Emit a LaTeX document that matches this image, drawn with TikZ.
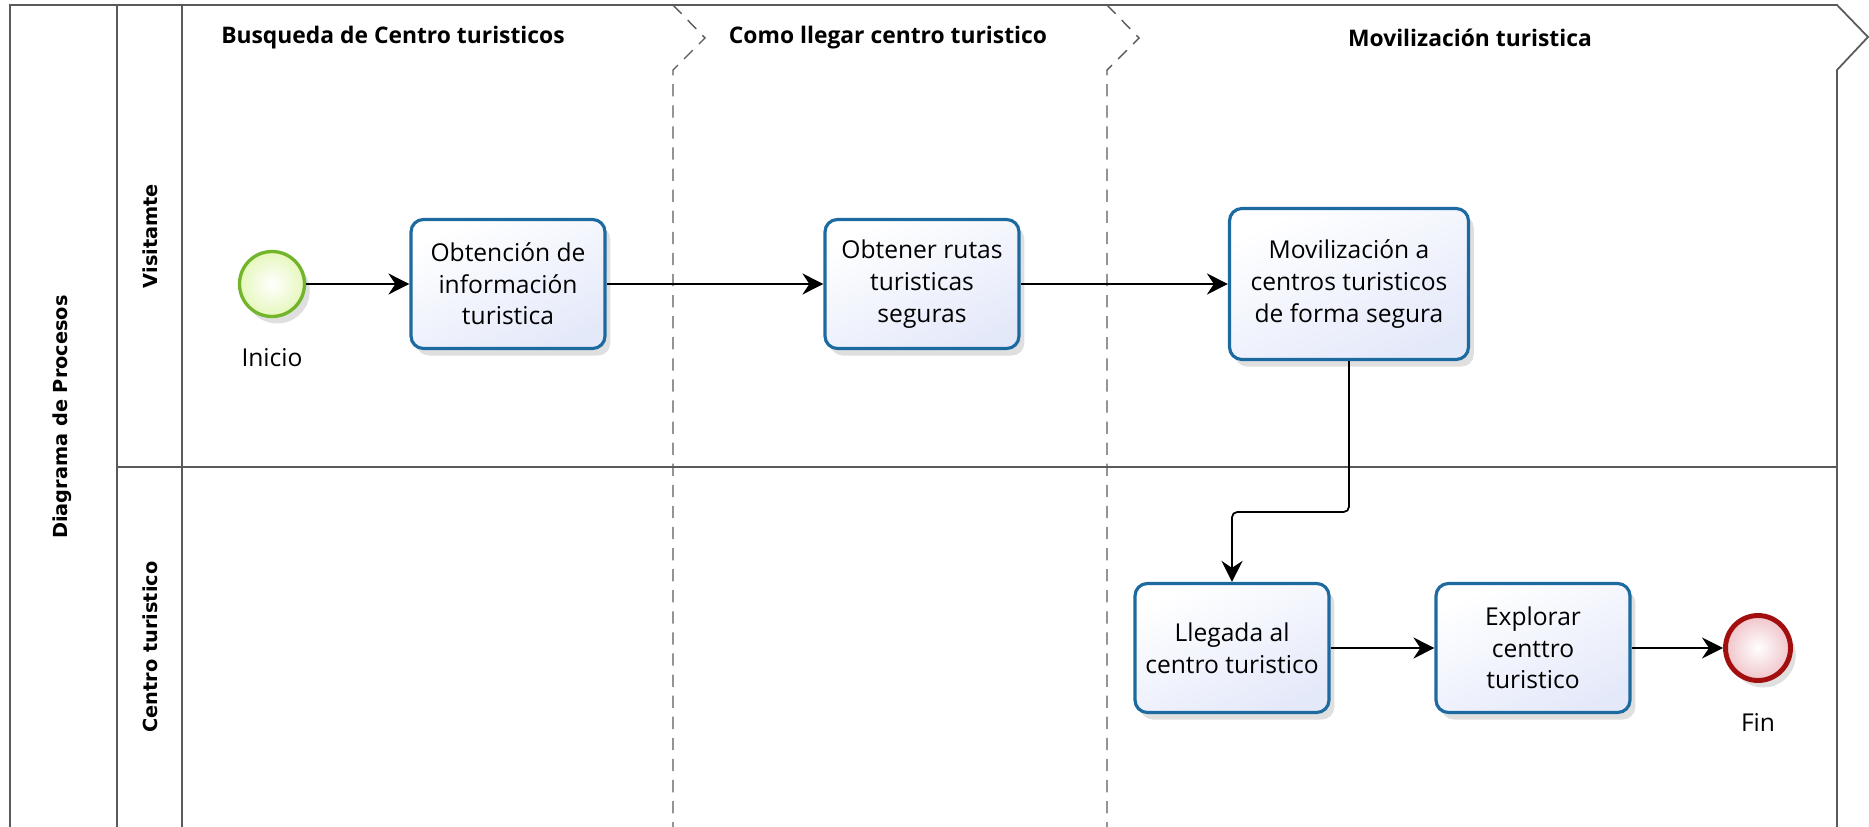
\documentclass[tikz,border=0pt]{standalone}
\usepackage{fontspec}
\setmainfont{Open Sans}
\newfontfamily\lanefont{DejaVu Sans}
\usetikzlibrary{arrows.meta,shadows}

\definecolor{taskblue}{HTML}{1C6AA0}
\definecolor{taskfill}{HTML}{E4E9FA}
\definecolor{startgreen}{HTML}{72B52A}
\definecolor{startfill}{HTML}{E6F7BC}
\definecolor{endred}{HTML}{A30F0F}
\definecolor{endfill}{HTML}{F0C4CA}
\definecolor{poolgray}{HTML}{5A5A5A}

\begin{document}
\begin{tikzpicture}[x=0.02cm,y=-0.02cm,
  shade/.style={drop shadow={shadow xshift=3pt,shadow yshift=-4pt,opacity=.25}},
  task/.style={rectangle,rounded corners=7pt,draw=taskblue,line width=1.8pt,
    top color=white,bottom color=taskfill,shading angle=25,shade,
    align=center,inner sep=2pt,font=\fontsize{14}{18}\selectfont,
    minimum width=3.88cm,minimum height=2.58cm},
  event/.style={circle,inner sep=0pt,minimum size=1.3cm,shade},
  startev/.style={event,draw=startgreen,line width=1.9pt,inner color=white,outer color=startfill},
  endev/.style={event,draw=endred,line width=2.8pt,inner color=white,outer color=endfill},
  evlabel/.style={font=\fontsize{14}{16}\selectfont},
  flow/.style={-{Stealth[length=12pt,width=12pt,inset=4pt]},line width=1pt},
  pool/.style={draw=poolgray,line width=1pt},
  phase/.style={draw=poolgray,line width=0.8pt,dash pattern=on 7pt off 5pt},
  phasetitle/.style={font=\bfseries\fontsize{13}{15}\selectfont},
  lanetitle/.style={rotate=90,font=\lanefont\bfseries\fontsize{11}{13}\selectfont}
]
\useasboundingbox (0,0) rectangle (1869,827);

% pool and lanes
\draw[pool] (10,827) -- (10,5) -- (1837,5) -- (1868,37) -- (1837,70) -- (1837,827);
\draw[pool] (117,5) -- (117,827);
\draw[pool] (182,5) -- (182,827);
\draw[pool] (117,467) -- (1837,467);

% phases
\draw[phase] (673,5) -- (705,38) -- (673,70) -- (673,827);
\draw[phase] (1107,5) -- (1139,38) -- (1107,70) -- (1107,827);

\node[phasetitle] (ph1) at (393,38) {Busqueda de Centro turisticos};
\node[phasetitle] (ph2) at (888,38) {Como llegar centro turistico};
\node[phasetitle] (ph3) at (1470,38) {Movilización turistica};

\node[lanetitle] (pooltitle) at (62,417) {Diagrama de Procesos};
\node[lanetitle] (lane1) at (150,236) {Visitamte};
\node[lanetitle] (lane2) at (150,647) {Centro turistico};

% visitante
\node[startev] (inicio) at (272,284) {};
\node[evlabel] (inicioL) at (272,358) {Inicio};
\node[task] (obtencion) at (508,284) {Obtención de\\información\\turistica};
\node[task] (rutas) at (922,284) {Obtener rutas\\turisticas\\seguras};
\node[task,minimum width=4.78cm,minimum height=3.02cm] (movil) at (1349,284)
  {Movilización a\\centros turisticos\\de forma segura};

% centro turistico
\node[task] (llegada) at (1232,648) {Llegada al\\centro turistico};
\node[task] (explorar) at (1533,648) {Explorar\\centtro\\turistico};
\node[endev] (fin) at (1758,648) {};
\node[evlabel] (finL) at (1758,722) {Fin};

\coordinate (turn) at (0,512);
\draw[flow] (inicio) -- (obtencion);
\draw[flow] (obtencion) -- (rutas);
\draw[flow] (rutas) -- (movil);
\draw[flow,rounded corners=3pt] (movil.south) -- (movil.south |- turn)
  -- (llegada.north |- turn) -- (llegada.north);
\draw[flow] (llegada) -- (explorar);
\draw[flow] (explorar) -- (fin);
\end{tikzpicture}
\end{document}
